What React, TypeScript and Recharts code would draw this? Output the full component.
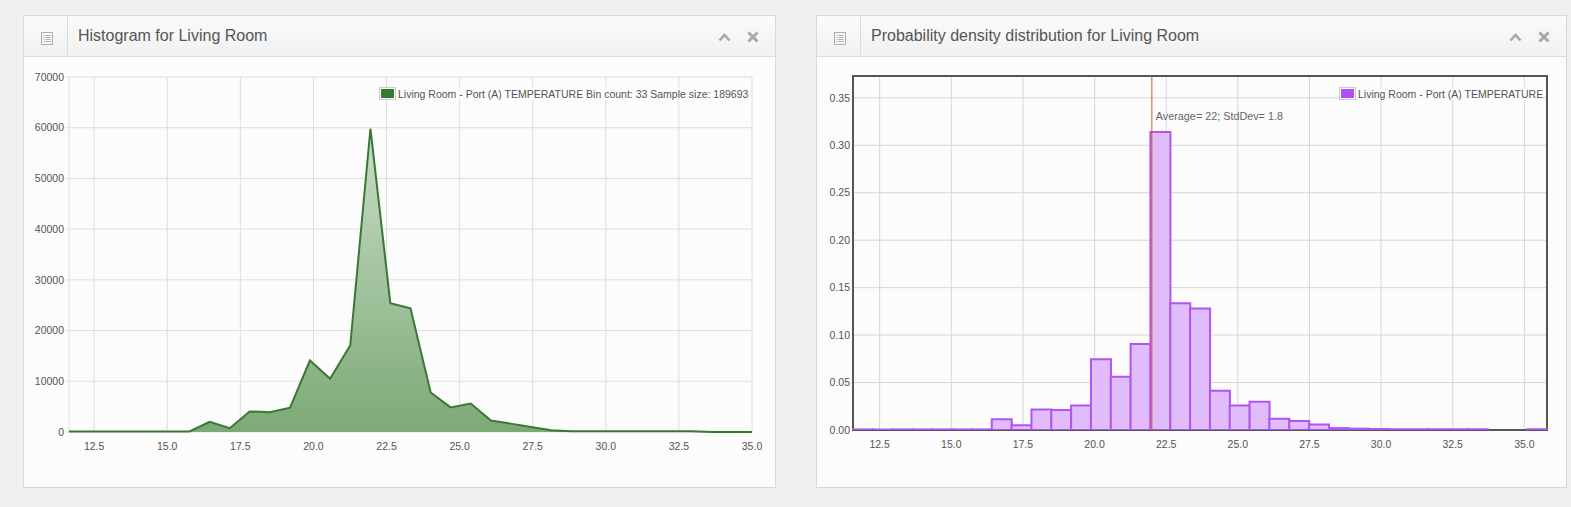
import {
  AreaChart,
  Area,
  BarChart,
  Bar,
  XAxis,
  YAxis,
  CartesianGrid,
  ReferenceLine,
  ReferenceArea,
  Legend,
} from 'recharts'

// bin start temperatures (°C)
const binStarts = [
  11.64, 12.33, 13.01, 13.7, 14.39, 15.08, 15.76, 16.45, 17.14, 17.82, 18.51, 19.2,
  19.88, 20.57, 21.26, 21.95, 22.63, 23.32, 24.01, 24.69, 25.38, 26.07, 26.75, 27.44,
  28.13, 28.82, 29.5, 30.19, 30.88, 31.56, 32.25, 32.94, 33.62, 34.31, 35.0,
]

// sample count per bin (left chart)
const counts = [
  80, 80, 80, 80, 80, 80, 100, 2000, 750, 4050, 3900, 4800,
  14100, 10500, 17100, 59800, 25400, 24400, 7800, 4850, 5600, 2250, 1650, 1000,
  350, 150, 150, 150, 150, 150, 150, 150, 0, 0, 0,
]

// share of samples per bin (right chart)
const probabilities = [
  0.0006, 0.0006, 0.0006, 0.0006, 0.0006, 0.0006, 0.0006, 0.0112, 0.0049, 0.0217, 0.021, 0.0259,
  0.0745, 0.056, 0.0906, 0.314, 0.1336, 0.128, 0.0413, 0.0259, 0.0297, 0.0119, 0.0094, 0.0059,
  0.002, 0.0014, 0.001, 0.0008, 0.0008, 0.0008, 0.0008, 0.0008, 0, 0, 0.0008,
]

const tempTicks = [12.5, 15, 17.5, 20, 22.5, 25, 27.5, 30, 32.5, 35]
const countTicks = [0, 10000, 20000, 30000, 40000, 50000, 60000, 70000]
const probTicks = [0, 0.05, 0.1, 0.15, 0.2, 0.25, 0.3, 0.35]

const seriesName = 'Living Room - Port (A) TEMPERATURE'
const binCount = 33
const sampleSize = 189693
const average = 22
const stdDev = 1.8

const FONT = '"Liberation Sans", Arial, sans-serif'
const tickStyle = { fontSize: 10.5, fill: '#545454', fontFamily: FONT }

const histData = binStarts.map((t, i) => ({ t, count: counts[i] }))
const pdfData = binStarts.map((t, i) => ({ bin: i, start: t, p: probabilities[i] }))

function DocIcon() {
  return (
    <svg width="12" height="13" style={{ position: 'absolute', left: 17, top: 16 }}>
      <rect x="0.5" y="0.5" width="11" height="12" fill="none" stroke="#b0b0b0" />
      {[3, 5, 7, 9].map(y => (
        <g key={y}>
          <line x1="2.5" x2="3.5" y1={y + 0.5} y2={y + 0.5} stroke="#b0b0b0" />
          <line x1="4.5" x2="9.5" y1={y + 0.5} y2={y + 0.5} stroke="#b0b0b0" />
        </g>
      ))}
    </svg>
  )
}

function HeaderButtons() {
  return (
    <>
      <svg width="13" height="9" style={{ position: 'absolute', right: 44, top: 17 }}>
        <polyline points="1.5,7.5 6.5,2 11.5,7.5" fill="none" stroke="#a8a8a8" strokeWidth="2.6" />
      </svg>
      <svg width="12" height="12" style={{ position: 'absolute', right: 16, top: 15 }}>
        <line x1="1.5" y1="1.5" x2="10.5" y2="10.5" stroke="#a8a8a8" strokeWidth="3" />
        <line x1="10.5" y1="1.5" x2="1.5" y2="10.5" stroke="#a8a8a8" strokeWidth="3" />
      </svg>
    </>
  )
}

function Panel({ left, width, title, children }: { left: number; width: number; title: string; children: any }) {
  return (
    <div
      style={{
        position: 'absolute',
        left,
        top: 15,
        width,
        height: 473,
        boxSizing: 'border-box',
        border: '1px solid #d8d8d8',
        background: '#fcfcfc',
      }}
    >
      <div
        style={{
          position: 'absolute',
          left: 0,
          top: 0,
          right: 0,
          height: 40,
          borderBottom: '1px solid #dcdcdc',
          background: 'linear-gradient(#fbfbfb, #f1f1f1)',
        }}
      >
        <div style={{ position: 'absolute', left: 0, top: 0, width: 43, height: 40, borderRight: '1px solid #dcdcdc' }}>
          <DocIcon />
        </div>
        <div
          style={{
            position: 'absolute',
            left: 54,
            top: 0,
            lineHeight: '40px',
            fontSize: 16,
            color: '#555',
            fontFamily: FONT,
          }}
        >
          {title}
        </div>
        <HeaderButtons />
      </div>
      {children}
    </div>
  )
}

function LegendBox({ color, text }: { color: string; text: string }) {
  return (
    <div
      style={{
        display: 'flex',
        alignItems: 'center',
        whiteSpace: 'nowrap',
        background: 'rgba(252,252,252,0.85)',
        fontFamily: FONT,
        fontSize: 10.5,
        color: '#545454',
      }}
    >
      <svg width="17" height="13" style={{ marginRight: 2 }}>
        <rect x="0.5" y="0.5" width="16" height="12" fill="#fff" stroke="#ccc" />
        <rect x="2" y="2" width="13" height="9" fill={color} />
      </svg>
      <span>{text}</span>
    </div>
  )
}

function AverageLabel(props: any) {
  const vb = props.viewBox || {}
  return (
    <text x={vb.x + 4} y={vb.y + 44} fontSize={10.8} fill="#666" fontFamily={FONT}>
      {`Average= ${average}; StdDev= ${stdDev}`}
    </text>
  )
}

export default function App() {
  return (
    <div
      style={{
        position: 'absolute',
        left: 0,
        top: 0,
        width: 1571,
        height: 507,
        background: '#efefef',
        fontFamily: FONT,
        overflow: 'hidden',
      }}
    >
      <Panel left={23} width={753} title="Histogram for Living Room">
        <div style={{ position: 'absolute', left: -1, top: 40 }}>
          <AreaChart width={752} height={431} data={histData} margin={{ top: 21, right: 23, left: 0, bottom: 25 }}>
            <defs>
              <linearGradient id="histFill" x1="0" y1="0" x2="0" y2="1">
                <stop offset="0%" stopColor="#c9ddc7" />
                <stop offset="100%" stopColor="#7caa76" />
              </linearGradient>
            </defs>
            <CartesianGrid stroke="#dedede" />
            <XAxis
              dataKey="t"
              type="number"
              domain={[binStarts[0], binStarts[binStarts.length - 1]]}
              ticks={tempTicks}
              tickFormatter={(v: number) => v.toFixed(1)}
              axisLine={false}
              tickLine={false}
              tickSize={0}
              tickMargin={11}
              height={30}
              tick={tickStyle}
            />
            <YAxis
              domain={[0, 70000]}
              ticks={countTicks}
              axisLine={false}
              tickLine={{ stroke: '#dedede' }}
              tickSize={3}
              tickMargin={2}
              width={46}
              tick={tickStyle}
            />
            <Legend
              layout="horizontal"
              verticalAlign="middle"
              align="center"
              wrapperStyle={{ left: 356, top: 31, width: 'auto' }}
              content={() => <LegendBox color="#347a30" text={`${seriesName} Bin count: ${binCount} Sample size: ${sampleSize}`} />}
            />
            <Area
              type="linear"
              dataKey="count"
              name={seriesName}
              stroke="#3a7634"
              strokeWidth={2}
              fill="url(#histFill)"
              fillOpacity={1}
              isAnimationActive={false}
              dot={false}
              activeDot={false}
            />
          </AreaChart>
        </div>
      </Panel>

      <Panel left={816} width={751} title="Probability density distribution for Living Room">
        <div style={{ position: 'absolute', left: -1, top: 40 }}>
          <BarChart
            width={751}
            height={431}
            data={pdfData}
            margin={{ top: 20, right: 20, left: 0, bottom: 27 }}
            barCategoryGap={0}
            barGap={0}
          >
            <CartesianGrid stroke="#d6d6d6" xAxisId="t" />
            <XAxis xAxisId="bins" dataKey="bin" type="category" hide height={0} />
            <XAxis
              xAxisId="t"
              dataKey="start"
              type="number"
              domain={[11.57, 35.79]}
              allowDataOverflow
              ticks={tempTicks}
              tickFormatter={(v: number) => v.toFixed(1)}
              axisLine={false}
              tickLine={false}
              tickSize={0}
              tickMargin={11}
              height={30}
              tick={tickStyle}
            />
            <YAxis
              domain={[0, 0.373]}
              allowDataOverflow
              ticks={probTicks}
              tickFormatter={(v: number) => v.toFixed(2)}
              axisLine={false}
              tickLine={false}
              tickSize={0}
              tickMargin={3}
              width={37}
              tick={tickStyle}
            />
            <ReferenceArea
              xAxisId="t"
              x1={11.57}
              x2={35.79}
              y1={0}
              y2={0.373}
              fill="none"
              stroke="#555"
              strokeWidth={2}
              ifOverflow="visible"
            />
            <ReferenceLine xAxisId="t" x={average} stroke="#d2542e" strokeWidth={1} label={<AverageLabel />} />
            <Legend
              layout="horizontal"
              verticalAlign="middle"
              align="center"
              wrapperStyle={{ left: 523, top: 31, width: 'auto' }}
              content={() => <LegendBox color="#b34ef4" text={seriesName} />}
            />
            <Bar
              xAxisId="bins"
              dataKey="p"
              name={seriesName}
              fill="#e0bcfb"
              stroke="#b155ee"
              strokeWidth={2}
              isAnimationActive={false}
            />
          </BarChart>
        </div>
      </Panel>
    </div>
  )
}
